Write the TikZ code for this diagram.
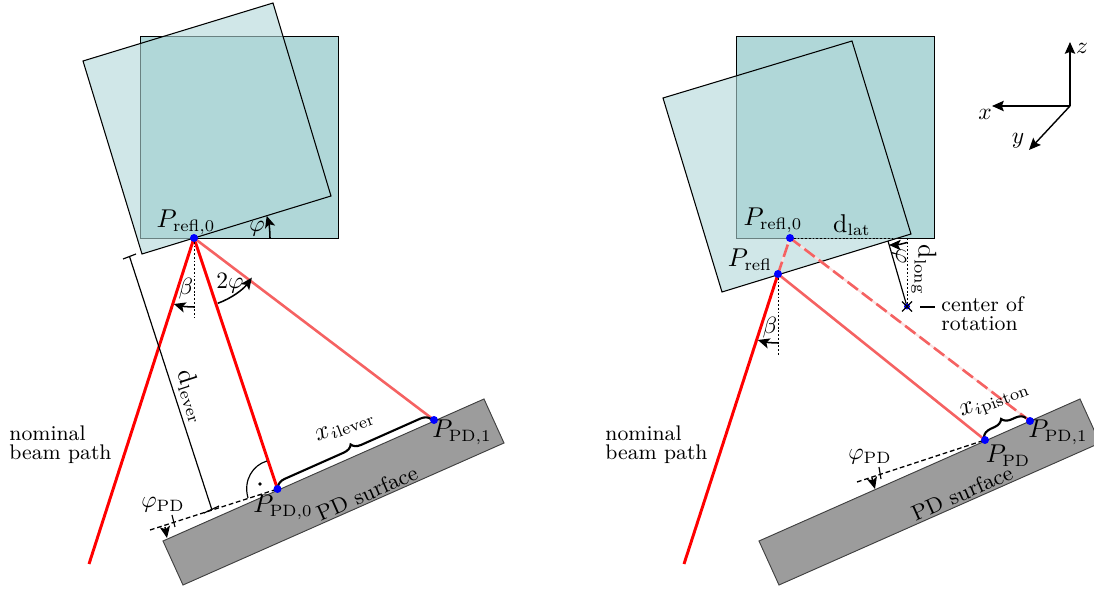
\documentclass[tikz,border=0pt]{standalone}
\usetikzlibrary{arrows.meta,decorations.pathreplacing,calc}
\DeclareMathSizes{11}{11.2}{6.8}{5.5}
\definecolor{teal1}{RGB}{176,215,216}
\definecolor{lightred}{RGB}{245,98,98}
\definecolor{palered}{RGB}{252,225,225}
\definecolor{pdgray}{RGB}{156,156,156}
\tikzset{
  base/.style={draw=black,line width=0.4pt,fill=teal1},
  mirror/.style={fill=teal1,fill opacity=0.6},
  mirroredge/.style={draw=black,line width=0.45pt},
  beam/.style={red,line width=1.25pt},
  beamlight/.style={lightred,line width=1.1pt},
  beamdash/.style={lightred,line width=1.1pt,dash pattern=on 5.5pt off 2.2pt},
  beampale/.style={palered,line width=0.9pt},
  pd/.style={draw=black!75,line width=0.4pt,fill=pdgray},
  dot/.style={circle,fill=blue,inner sep=0pt,minimum size=3.4pt},
  thin line/.style={black,line width=0.5pt},
  dotline/.style={black,line width=0.35pt,dash pattern=on 0.8pt off 0.8pt},
  dashline/.style={black,line width=0.55pt,dash pattern=on 2pt off 1.2pt},
  arr/.style={-{Stealth[length=5pt,width=4.4pt,inset=1.2pt]},black,line width=0.65pt},
  axis/.style={-{Stealth[length=5pt,width=4.4pt,inset=0.8pt]},black,line width=0.6pt},
  bracefig/.style={decorate,decoration={brace,amplitude=4pt},line width=0.9pt,black},
  lab/.style={inner sep=0pt,font=\fontsize{11}{13}\selectfont},
  small lab/.style={inner sep=0pt,font=\fontsize{10}{12}\selectfont},
  surf/.style={inner sep=0pt,font=\fontsize{9.3}{11}\selectfont},
  para/.style={inner sep=0pt,align=left,font=\fontsize{9}{8}\selectfont},
}
\begin{document}
\begin{tikzpicture}[x=0.4255pt,y=-0.4255pt]
\useasboundingbox (0,0) rectangle (1094,590);
\clip (0,0) rectangle (1094,590);
% ---------- left panel ----------
\coordinate (P0) at (194,238);
\coordinate (PDa) at (277.5,489);
\coordinate (PDb) at (434,420);
\coordinate (start) at (89,564);
\draw[base] (140,36) rectangle (338,238);
\path[mirror] (83,61) -- (273,3) -- (331,196) -- (142,254) -- cycle;
\draw[mirroredge] (83,61) -- (273,3) -- (331,196) -- (142,254) -- cycle;
\draw[pd] (163,541) -- (484,399) -- (504,443) -- (183,585) -- cycle;
\draw[beam] (start) -- (P0);
\draw[beam] (P0) -- (PDa);
\draw[beamlight] (P0) -- (PDb);
\draw[dotline] (P0) -- (194,317);
% lever
\coordinate (La) at (129.5,256.5);
\coordinate (Lb) at (212,510);
\draw[thin line] (La) -- (Lb);
\draw[thin line] (123,259) -- (136,254);
\draw[thin line] (204,513) -- (219,506);
\node[lab,rotate=-72] (dlever) at (192,396) {$\mathrm{d_{lever}}$};
% surface dashed line
\coordinate (dashL) at (150,530);
\draw[dashline] (dashL) -- (PDa);
\draw[thin line] (172,515) -- (175,527);
\draw[arr] (165,527) -- (167,538);
\node[small lab] (phipdL) at (163,505) {$\varphi_{\mathrm{PD}}$};
% right angle
\draw[thin line] (267,461) .. controls (253,465) and (243,480) .. (248,498);
\fill (260,484) circle (1.8);
% angles
\draw[arr] ($(P0)+(0:76)$) arc (0:-17:76);
\draw[arr] ($(P0)+(90:69)$) arc (90:107:69);
\draw[arr] ($(P0)+(70:69.5)$) arc (70:36:73);
\node[small lab] (phiL) at (257,229) {$\varphi$};
\node[small lab] (betaL) at (186,289) {$\beta$};
\node[small lab] (twophi) at (230,283) {$2\varphi$};
% brace
\draw[bracefig] (278,487) -- (431,419);
\node[lab,rotate=21] (xlever) at (345,427) {$x_{i\mathrm{lever}}$};
\node[dot] (d0) at (P0) {};
\node[dot] (d1) at (PDa) {};
\node[dot] (d2) at (PDb) {};
\node[lab] (lP0) at (186,222) {$P_{\mathrm{refl,0}}$};
\node[lab] (lPa) at (283,507) {$P_{\mathrm{PD,0}}$};
\node[lab] (lPb) at (462,432) {$P_{\mathrm{PD,1}}$};
\node[surf,rotate=24] (surfL) at (367,493) {PD surface};
\node[para,anchor=west] (nomL) at (9,445) {nominal\\beam path};
% ---------- right panel ----------
\coordinate (Q0) at (790,238);
\coordinate (Q) at (778,274);
\coordinate (QPD) at (985,440);
\coordinate (QPDb) at (1030,421);
\coordinate (qstart) at (684,564);
\coordinate (C) at (907,306.5);
\draw[base] (736,36) rectangle (934,238);
\path[mirror] (663,98) -- (852,41) -- (911,234) -- (722,292) -- cycle;
\draw[mirroredge] (663,98) -- (852,41) -- (911,234) -- (722,292) -- cycle;
\draw[pd] (759,541) -- (1080,399) -- (1100,443) -- (779,585) -- cycle;
\draw[beam] (qstart) -- (Q);
\draw[beampale] (Q) -- (Q0);
\draw[beamdash] (Q) -- (Q0);
\draw[beamlight] (Q) -- (QPD);
\draw[beampale] (Q0) -- (QPDb);
\draw[beamdash] (Q0) -- (QPDb);
\draw[dotline] (Q) -- (778,355);
\draw[dotline] (Q0) -- (911,238);
\draw[dotline] (907,238) -- (C);
\draw[thin line] (888,241) -- (C);
\draw[arr] (907,242.5) to[bend left=8] (889,245);
\node[small lab,rotate=-90] (phiR) at (899,256) {$\varphi$};
\node[lab] (dlat) at (852,225) {$\mathrm{d_{lat}}$};
\node[lab,rotate=-90] (dlong) at (924,270) {$\mathrm{d_{long}}$};
\draw[arr] ($(Q)+(90:69)$) arc (90:107:69);
\node[small lab] (betaR) at (770,328) {$\beta$};
\fill[blue] (C) circle (3);
\draw[black,line width=0.55pt] (902,301.5) -- (912,311.5) (902,311.5) -- (912,301.5);
\draw[thin line] (920,307) -- (935,307);
\node[para,anchor=west] (corot) at (941,314) {center of\\rotation};
\coordinate (dashQ) at (857,482);
\draw[dashline] (dashQ) -- (QPD);
\draw[thin line] (879,467) -- (881,479);
\draw[arr] (872,478) -- (875,489);
\node[small lab] (phipdR) at (870,457) {$\varphi_{\mathrm{PD}}$};
\draw[bracefig] (984,437) -- (1026,418);
\node[lab,rotate=21] (xpiston) at (995,402) {$x_{i\mathrm{piston}}$};
\node[dot] (e0) at (Q0) {};
\node[dot] (e1) at (Q) {};
\node[dot] (e2) at (QPD) {};
\node[dot] (e3) at (QPDb) {};
\node[lab] (lQ0) at (773,220) {$P_{\mathrm{refl,0}}$};
\node[lab] (lQ) at (750,260) {$P_{\mathrm{refl}}$};
\node[lab] (lQa) at (1008,456) {$P_{\mathrm{PD}}$};
\node[lab] (lQb) at (1058,432) {$P_{\mathrm{PD,1}}$};
\node[surf,rotate=24] (surfR) at (962,493) {PD surface};
\node[para,anchor=west] (nomR) at (605,445) {nominal\\beam path};
% axes
\coordinate (O) at (1070,106);
\coordinate (Z) at (1070,42);
\coordinate (X) at (992,106);
\coordinate (Y) at (1029,150);
\draw[axis] (O) -- (Z);
\draw[axis] (O) -- (X);
\draw[axis] (O) -- (Y);
\node[small lab] (lz) at (1082,48) {$z$};
\node[small lab] (lx) at (985,114) {$x$};
\node[small lab] (ly) at (1018,141) {$y$};
\end{tikzpicture}
\end{document}
